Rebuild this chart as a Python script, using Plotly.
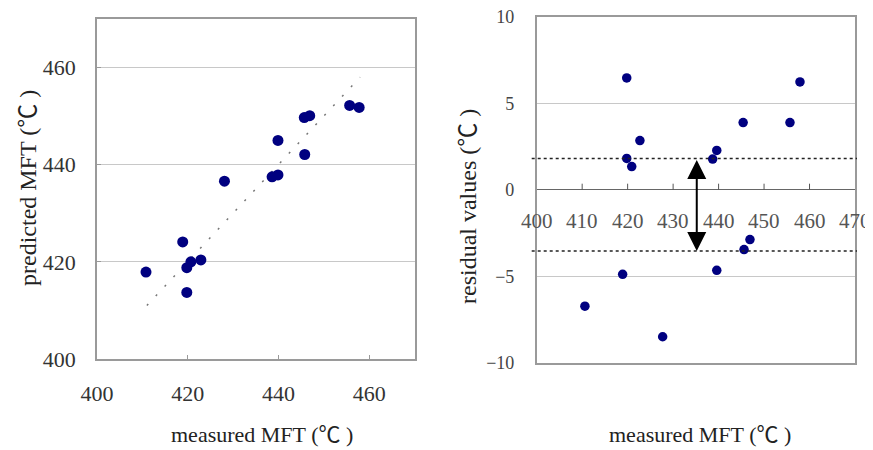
import plotly.graph_objects as go

# ---- data ----
measured = [410.8, 418.9, 419.8, 420.7, 422.9, 419.8, 428.1, 438.6, 439.9, 439.9, 445.8, 445.7, 446.9, 455.7, 457.8]
predicted = [417.9, 424.1, 418.8, 420.0, 420.4, 413.7, 436.6, 437.5, 437.9, 445.0, 442.1, 449.7, 450.1, 452.2, 451.8]

res_measured = [410.6, 418.9, 419.8, 419.8, 420.9, 422.7, 427.7, 438.7, 439.6, 439.6, 445.4, 445.6, 446.9, 455.7, 457.9]
residuals = [-6.73, -4.89, 6.46, 1.81, 1.34, 2.84, -8.5, 1.77, 2.27, -4.66, 3.88, -3.46, -2.88, 3.88, 6.23]

ideal_x = [411, 458]
ideal_y = [411, 458]

band_upper = 1.8
band_lower = -3.54
arrow_x = 435.2

res_xticks = [400, 410, 420, 430, 440, 450, 460, 470]
res_xtick_marks = [410, 420, 430, 440, 450, 460]

# page body has an 8px margin; figure sized to fill the rest of the 873x450 window
OFF = 8
W, H = 873 - OFF, 450 - OFF
def px(x):
    return (x - OFF) / W
def py(y):
    return 1 - (y - OFF) / H

SERIF = "Liberation Serif"
NAVY = "#000080"
FRAME = "#9a9a9a"
GRID = "#c8c8c8"
DEG = '<span style="font-family:\'Noto Sans CJK JP\'">℃</span>'

fig = go.Figure()

# left: predicted vs measured
fig.add_trace(go.Scatter(x=ideal_x, y=ideal_y, mode="lines",
                         line=dict(color="#777777", width=1.5, dash="2px,11px"),
                         xaxis="x", yaxis="y", showlegend=False, hoverinfo="skip"))
fig.add_trace(go.Scatter(x=measured, y=predicted, mode="markers",
                         marker=dict(color=NAVY, size=11),
                         xaxis="x", yaxis="y", showlegend=False))

# right: residuals
fig.add_trace(go.Scatter(x=res_measured, y=residuals, mode="markers",
                         marker=dict(color=NAVY, size=9.5),
                         xaxis="x2", yaxis="y2", showlegend=False))

shapes = []
for yv in (band_upper, band_lower):
    shapes.append(dict(type="line", xref="paper", yref="y2", x0=px(531.7), x1=px(857),
                       y0=yv, y1=yv, line=dict(color="#222222", width=1.5, dash="dot")))
for t in res_xtick_marks:
    shapes.append(dict(type="line", xref="x2", yref="y2", ysizemode="pixel", yanchor=0,
                       x0=t, x1=t, y0=0, y1=6, line=dict(color="#555555", width=1)))

def title(x, y, text, size, angle=0):
    return dict(x=px(x), y=py(y), xref="paper", yref="paper", text=text,
                xanchor="center", yanchor="middle", showarrow=False, textangle=angle,
                font=dict(family=SERIF, size=size, color="#222"))

annotations = [
    dict(x=arrow_x, y=band_lower, ax=arrow_x, ay=band_upper, xref="x2", yref="y2",
         axref="x2", ayref="y2", text="", showarrow=True, arrowside="end+start",
         arrowhead=2, startarrowhead=2, arrowwidth=2, arrowsize=1.9, startarrowsize=1.9,
         arrowcolor="black"),
    title(262, 432, "measured MFT (" + DEG + " )", 22),
    title(699.5, 432, "measured MFT (" + DEG + " )", 22),
    title(25, 188, "predicted MFT (" + DEG + " )", 24, -90),
    title(466, 206, "residual values (" + DEG + " )", 24, -90),
]
for t in res_xticks:
    annotations.append(dict(x=t, y=0, xref="x2", yref="y2", yshift=-31, text=str(t),
                            xanchor="center", yanchor="middle",
                            showarrow=False, font=dict(family=SERIF, size=21, color="#555")))

fig.update_layout(
    width=W, height=H, margin=dict(l=0, r=0, t=0, b=0, autoexpand=False),
    plot_bgcolor="white", paper_bgcolor="white",
    font=dict(family=SERIF, color="#333"),
    xaxis=dict(domain=[px(97), px(414.5)], range=[400, 470], tickvals=[400, 420, 440, 460],
               showgrid=False, zeroline=False, showline=True, mirror=True, linecolor=FRAME,
               linewidth=1.5, ticks="inside", ticklen=4, tickcolor=FRAME, automargin=False,
               ticklabeloverflow="allow",
               tickfont=dict(family=SERIF, size=22, color="#333"), ticklabelstandoff=14),
    yaxis=dict(domain=[py(359), py(19)], range=[400, 470], tickvals=[400, 420, 440, 460],
               showgrid=True, gridcolor=GRID, gridwidth=1, zeroline=False, showline=True,
               mirror=True, linecolor=FRAME, linewidth=1.5, ticks="inside", ticklen=4,
               tickcolor=FRAME, tickfont=dict(family=SERIF, size=22, color="#333"),
               ticklabelstandoff=15, automargin=False, ticklabeloverflow="allow"),
    xaxis2=dict(domain=[px(536.7), px(855)], range=[400, 470], anchor="y2",
                showticklabels=False, showgrid=False, zeroline=False, showline=True,
                mirror=True, linecolor=FRAME, linewidth=1.5, ticks="", automargin=False),
    yaxis2=dict(domain=[py(362.7), py(16.7)], range=[-10, 10], tickvals=[-10, -5, 0, 5, 10],
                anchor="x2", showgrid=True, gridcolor=GRID, gridwidth=1, zeroline=True,
                zerolinecolor="#666666", zerolinewidth=1.2, showline=True, mirror=True,
                linecolor=FRAME, linewidth=1.5, ticks="", automargin=False,
                ticklabeloverflow="allow",
                tickfont=dict(family=SERIF, size=18, color="#444"), ticklabelstandoff=17),
    shapes=shapes, annotations=annotations,
)

fig.write_html("out.html")
